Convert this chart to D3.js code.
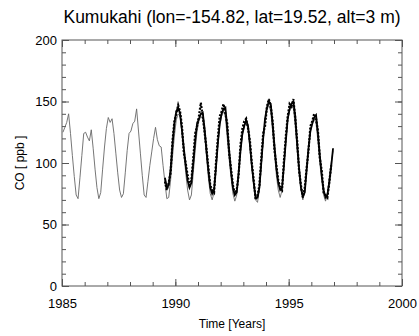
<!DOCTYPE html>
<html>
<head>
<meta charset="utf-8" />
<title>Kumukahi CO</title>
<style>
  body { margin: 0; background: #fff; }
  svg text { font-family: "Liberation Sans", Arial, sans-serif; fill: #000; }
  .axis line { stroke: #555; }
  .axis .domain { display: none; }
  .frame { fill: none; stroke: #555; stroke-width: 1; }
</style>
<script src="https://cdn.jsdelivr.net/npm/d3@7"></script>
</head>
<body>
<svg width="419" height="336"></svg>
<script>
// thin grey series, monthly from Jan 1985
var greyStart = 1985;
var greyValues = [
  125, 129, 133, 140, 124, 106, 89, 74, 71, 88, 106, 124,   // 1985
  125, 121, 118, 127, 112, 95, 80, 71, 76, 95, 113, 128,    // 1986
  137, 133, 136, 124, 108, 92, 78, 72, 75, 92, 110, 124,    // 1987
  126, 132, 134, 144, 126, 108, 90, 74, 72, 85, 98, 109,    // 1988
  120, 129, 119, 114, 113, 98, 84, 71, 72, 86, 105, 122,    // 1989
  135, 140, 138, 125, 108, 92, 78, 70, 74, 92, 110, 126,    // 1990
  134, 138, 136, 122, 105, 88, 75, 70, 76, 95, 115, 130,    // 1991
  138, 142, 138, 120, 103, 88, 75, 69, 74, 92, 110, 122,    // 1992
  130, 133, 128, 112, 96, 82, 70, 68, 78, 98, 118, 135,     // 1993
  143, 147, 142, 126, 108, 90, 78, 72, 78, 98, 118, 135,    // 1994
  142, 146, 145, 130, 110, 92, 78, 70, 76, 95, 112, 125,    // 1995
  132, 136, 132, 118, 100, 86, 74, 69, 74, 88, 100, 110     // 1996
];

// thick black series, monthly from Jul 1989
var blackStart = 1989.5;
var blackValues = [
  88, 80, 82, 95, 115, 132,                                   // 1989
  142, 145, 140, 127, 112, 98, 86, 80, 84, 100, 118, 132,    // 1990
  136, 140, 141, 128, 110, 94, 80, 75, 78, 96, 116, 132,     // 1991
  140, 144, 145, 128, 110, 93, 80, 74, 76, 92, 110, 124,     // 1992
  130, 135, 130, 115, 98, 84, 72, 72, 80, 100, 120, 136,     // 1993
  145, 150, 148, 132, 114, 96, 84, 78, 80, 98, 118, 136,     // 1994
  144, 148, 150, 138, 116, 96, 80, 73, 76, 94, 112, 126,     // 1995
  132, 137, 139, 124, 106, 90, 78, 72, 74, 84, 97, 112       // 1996
];

// dashed observations, monthly from Jul 1989
var obsStart = 1989.5;
var obsValues = [
  85, 78, 84, 92, 118, 134,
  140, 147, 142, 130, 108, 100, 90, 82, 86, 104, 124, 130,
  138, 149, 138, 125, 112, 96, 82, 78, 76, 100, 120, 138,
  142, 148, 140, 132, 108, 95, 82, 75, 78, 90, 115, 128,
  134, 136, 128, 118, 100, 86, 70, 73, 82, 104, 124, 130,
  146, 152, 146, 134, 110, 98, 86, 80, 78, 102, 122, 138,
  148, 146, 152, 136, 118, 94, 82, 72, 80, 96, 110, 130,
  134, 140, 136, 126, 104, 94, 76, 74, 72, 84, 98
];

var xMajor = [1985, 1990, 1995, 2000];
var yMajor = [0, 50, 100, 150, 200];

var svg = d3.select('svg'),
    margin = { top: 40, right: 17, bottom: 50, left: 62 },
    width = +svg.attr('width') - margin.left - margin.right,
    height = +svg.attr('height') - margin.top - margin.bottom;

var x = d3.scaleLinear().domain([1985, 2000]).range([0, width]);
var y = d3.scaleLinear().domain([0, 200]).range([height, 0]);

var g = svg.append('g')
    .attr('transform', 'translate(' + margin.left + ',' + margin.top + ')');

function toPoints(start, values) {
    return values.map(function(v, i) { return [start + (i + 0.5) / 12, v]; });
}

var line = d3.line()
    .x(function(d) { return x(d[0]); })
    .y(function(d) { return y(d[1]); });

// minor ticks every year / every 10 ppb, majors from the tick lists
var xMinor = d3.range(1985, 2001, 1);
var yMinor = d3.range(0, 201, 10);

function addAxes(axisFn, scale, tr, minor, major, labels) {
    g.append('g').attr('class', 'axis').attr('transform', tr)
        .call(axisFn(scale).tickValues(minor).tickSize(-4).tickFormat(''));
    var a = g.append('g').attr('class', 'axis').attr('transform', tr)
        .call(axisFn(scale).tickValues(major).tickSize(-7).tickPadding(labels ? 10 : 0)
            .tickFormat(labels ? d3.format('d') : ''));
    a.selectAll('text').style('font-size', '13px');
    return a;
}

var bx = addAxes(d3.axisBottom, x, 'translate(0,' + height + ')', xMinor, xMajor, true);
bx.selectAll('text').attr('dy', '0.9em');
addAxes(d3.axisTop, x, 'translate(0,0)', xMinor, xMajor, false);
var ly = addAxes(d3.axisLeft, y, 'translate(0,0)', yMinor, yMajor, true);
ly.selectAll('text').attr('x', -5);
addAxes(d3.axisRight, y, 'translate(' + width + ',0)', yMinor, yMajor, false);

g.append('rect').attr('class', 'frame')
    .attr('x', 0).attr('y', 0).attr('width', width).attr('height', height);

g.append('path')
    .datum(toPoints(greyStart, greyValues))
    .attr('fill', 'none')
    .attr('stroke', '#666')
    .attr('stroke-width', 0.9)
    .attr('d', line);

g.append('path')
    .datum(toPoints(obsStart, obsValues))
    .attr('fill', 'none')
    .attr('stroke', '#000')
    .attr('stroke-width', 2.2)
    .attr('stroke-dasharray', '2,1.5')
    .attr('d', line);

g.append('path')
    .datum(toPoints(blackStart, blackValues))
    .attr('fill', 'none')
    .attr('stroke', '#000')
    .attr('stroke-width', 1.8)
    .attr('d', line);

svg.append('text')
    .attr('x', margin.left + width / 2)
    .attr('y', 23)
    .attr('text-anchor', 'middle')
    .style('font-size', '17.5px')
    .text('Kumukahi (lon=-154.82, lat=19.52, alt=3 m)');

svg.append('text')
    .attr('x', margin.left + width / 2)
    .attr('y', 328)
    .attr('text-anchor', 'middle')
    .style('font-size', '12px')
    .text('Time [Years]');

svg.append('text')
    .attr('transform', 'translate(24,' + (margin.top + height / 2) + ') rotate(-90)')
    .attr('text-anchor', 'middle')
    .style('font-size', '12px')
    .text('CO [ ppb ]');
</script>
</body>
</html>
